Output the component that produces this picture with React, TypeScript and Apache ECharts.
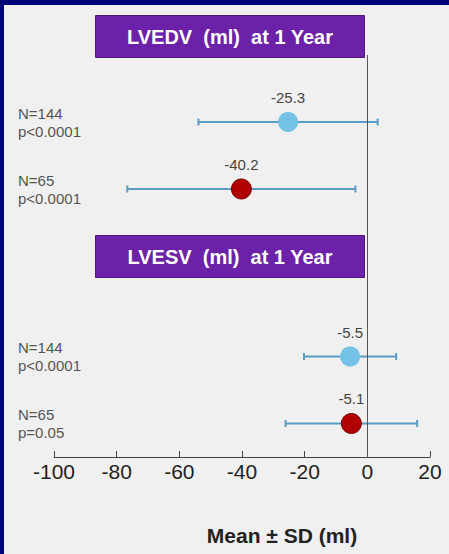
import React, { useEffect, useRef } from "react";
import * as echarts from "echarts";

const panelTitles = ["LVEDV  (ml)  at 1 Year", "LVESV  (ml)  at 1 Year"];
const rowLabels = ["N=144\np<0.0001", "N=65\np<0.0001", "N=144\np<0.0001", "N=65\np=0.05"];
const means = [-25.3, -40.2, -5.5, -5.1];
const sds = [28.6, 36.4, 14.7, 21.0];
const groups = ["N=144", "N=65", "N=144", "N=65"];
const xTicks = [-100, -80, -60, -40, -20, 0, 20];
const axisTitle = "Mean ± SD (ml)";

// layout slots on the vertical (hidden) axis
const rowSlots = [2, 4, 9, 11];

export default function App() {
  const ref = useRef<HTMLDivElement>(null);
  useEffect(() => {
    const chart = echarts.init(ref.current!, null, { renderer: "svg" });
    const slotLabel: Record<number, string> = {};
    rowSlots.forEach((s, i) => (slotLabel[s] = rowLabels[i]));
    const errData = means.map((m, i) => [m - sds[i], m + sds[i], rowSlots[i]]);
    const blueIdx = groups.map((g, i) => (g === "N=144" ? i : -1)).filter((i) => i >= 0);
    const redIdx = groups.map((g, i) => (g === "N=65" ? i : -1)).filter((i) => i >= 0);
    const pts = (idx: number[]) => idx.map((i) => [means[i], rowSlots[i]]);
    const font = "Arial, 'Liberation Sans', sans-serif";
    const titleBox = (y: number, text: string) => ({
      type: "group",
      left: 95,
      top: y,
      children: [
        {
          type: "rect",
          shape: { x: 0, y: 0, width: 269, height: 42 },
          style: { fill: "#6c22a8", stroke: "#4e177c", lineWidth: 1 },
        },
        {
          type: "text",
          x: 134.5,
          y: 21,
          style: {
            text,
            fill: "#ffffff",
            font: "bold 20px " + font,
            align: "center",
            verticalAlign: "middle",
          },
        },
      ],
    });
    const valueLabel = {
      show: true,
      position: "top",
      distance: 7,
      color: "#444",
      fontSize: 15,
      fontFamily: font,
      formatter: (p: any) => String(p.value[0]),
    };
    chart.setOption({
      animation: false,
      backgroundColor: "#f0f0f0",
      grid: { left: 54, right: 19, top: 55, bottom: 97, containLabel: false },
      xAxis: {
        type: "value",
        position: "bottom",
        min: xTicks[0],
        max: xTicks[xTicks.length - 1],
        interval: 20,
        splitLine: { show: false },
        axisLine: { show: true, onZero: false, lineStyle: { color: "#444", width: 1 } },
        axisTick: { show: true, inside: true, length: 6, lineStyle: { color: "#444" } },
        axisLabel: {
          color: "#222",
          fontSize: 21,
          margin: 4,
          fontFamily: font,
        },
      },
      yAxis: {
        type: "value",
        inverse: true,
        min: 0,
        max: 12,
        interval: 1,
        splitLine: { show: false },
        axisLine: { show: false },
        axisTick: { show: false },
        axisLabel: {
          show: true,
          align: "left",
          margin: 36,
          color: "#555",
          fontSize: 15,
          lineHeight: 18,
          fontFamily: font,
          formatter: (v: number) => slotLabel[v] ?? "",
        },
      },
      graphic: [
        { type: "rect", left: 0, top: 0, shape: { width: 449, height: 5 }, style: { fill: "#000078" } },
        { type: "rect", left: 0, top: 0, shape: { width: 4, height: 554 }, style: { fill: "#000078" } },
        titleBox(15, panelTitles[0]),
        titleBox(235, panelTitles[1]),
        {
          type: "text",
          x: 282,
          y: 535,
          style: {
            text: axisTitle,
            fill: "#222",
            font: "bold 21px " + font,
            align: "center",
            verticalAlign: "middle",
          },
        },
      ],
      series: [
        {
          type: "custom",
          data: errData,
          z: 2,
          renderItem: (_p: any, api: any) => {
            const lo = api.coord([api.value(0), api.value(2)]);
            const hi = api.coord([api.value(1), api.value(2)]);
            const c = 3.5;
            const st = { stroke: "#5a9cc4", lineWidth: 2 };
            return {
              type: "group",
              children: [
                { type: "line", shape: { x1: lo[0], y1: lo[1], x2: hi[0], y2: hi[1] }, style: st },
                { type: "line", shape: { x1: lo[0], y1: lo[1] - c, x2: lo[0], y2: lo[1] + c }, style: st },
                { type: "line", shape: { x1: hi[0], y1: hi[1] - c, x2: hi[0], y2: hi[1] + c }, style: st },
              ],
            };
          },
          markLine: {
            silent: true,
            symbol: "none",
            label: { show: false },
            lineStyle: { color: "#555", width: 1, type: "solid" },
            data: [{ xAxis: 0 }],
          },
        },
        {
          type: "scatter",
          data: pts(blueIdx),
          symbolSize: 20,
          z: 3,
          itemStyle: { color: "#74c2e6", opacity: 1 },
          label: valueLabel,
        },
        {
          type: "scatter",
          data: pts(redIdx),
          symbolSize: 20,
          z: 3,
          itemStyle: { color: "#b00000", borderColor: "#7a0000", borderWidth: 1, opacity: 1 },
          label: valueLabel,
        },
      ],
    });
    return () => chart.dispose();
  }, []);
  return (
    <div
      ref={ref}
      style={{ position: "fixed", left: 0, top: 0, width: 449, height: 554 }}
    />
  );
}
